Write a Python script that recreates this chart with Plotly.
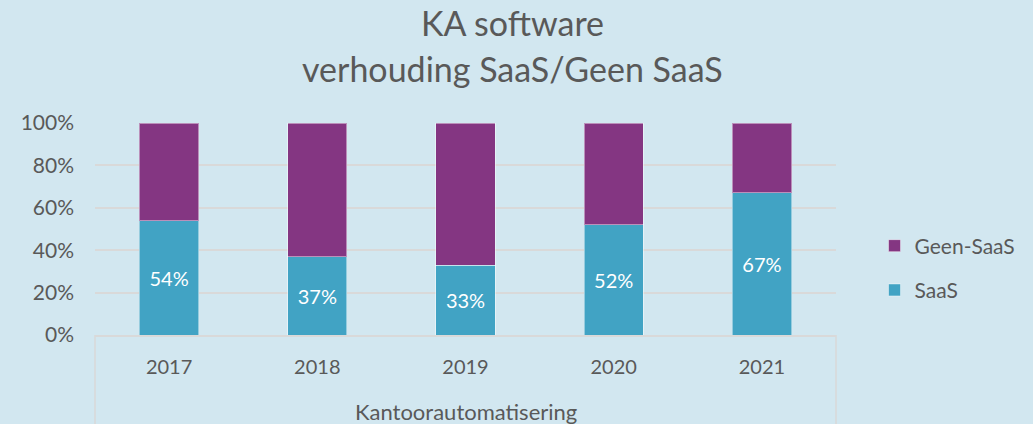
import plotly.graph_objects as go

years = ["2017", "2018", "2019", "2020", "2021"]
saas = [0.54, 0.37, 0.33, 0.52, 0.67]
geen_saas = [0.46, 0.63, 0.67, 0.48, 0.33]
group_label = "Kantoorautomatisering"
title_lines = ["KA software", "verhouding SaaS/Geen SaaS"]

FONT = "Lato, Open Sans, sans-serif"
GREY = "#595959"
GRID = "#D9D9D9"
BG = "#D2E7F0"

fig = go.Figure()
fig.add_trace(go.Bar(
    x=years, y=saas, name="SaaS",
    marker=dict(color="#41A3C4", line=dict(color="rgba(255,255,255,0.45)", width=1)),
    text=[f"{v:.0%}" for v in saas], textposition="inside", insidetextanchor="middle",
    textfont=dict(color="white", size=20, family=FONT), legendgroup="b", legendrank=2,
))
fig.add_trace(go.Bar(
    x=years, y=geen_saas, name="Geen-SaaS",
    marker=dict(color="#843682", line=dict(color="rgba(255,255,255,0.45)", width=1)),
    legendgroup="a", legendrank=1,
))

H = 212.0
fig.update_layout(
    barmode="stack", bargap=0.6,
    width=1033, height=424,
    paper_bgcolor=BG, plot_bgcolor=BG,
    margin=dict(l=95, r=188, t=123, b=89),
    font=dict(family=FONT, color=GREY, size=20),
    legend=dict(x=(884 - 95) / 750, xanchor="left", y=(335 - 268) / H, yanchor="middle",
                traceorder="grouped", tracegroupgap=14,
                font=dict(size=21, color=GREY, family=FONT), bgcolor="rgba(0,0,0,0)"),
    showlegend=True,
)
fig.update_yaxes(range=[0, 1], dtick=0.2, tickformat=".0%", showgrid=True, gridcolor=GRID,
                 gridwidth=1.5, zeroline=False, showline=False, ticks="", ticklabelstandoff=20,
                 tickfont=dict(size=21, color=GREY))
fig.update_xaxes(showline=True, linecolor=GRID, linewidth=1.5, ticks="", showgrid=False,
                 tickfont=dict(size=20, color=GREY), ticklabelstandoff=13,
                 categoryorder="array", categoryarray=years)

for xp in (0, 1):
    fig.add_shape(type="line", xref="paper", yref="paper", x0=xp, x1=xp, y0=0, y1=-100 / H,
                  line=dict(color=GRID, width=1.5))
fig.add_annotation(text=group_label, xref="paper", yref="paper", x=0.5, y=(335 - 411) / H,
                   showarrow=False, font=dict(size=22, color=GREY, family=FONT),
                   yanchor="middle")
for line, yc in zip(title_lines, (22, 69)):
    fig.add_annotation(text=line, xref="paper", yref="paper", x=(518 - 95) / 750,
                       y=(335 - yc) / H, showarrow=False, xanchor="center", yanchor="middle",
                       font=dict(size=34, color=GREY, family=FONT))

fig.write_html("out.html", config={"displayModeBar": False},
               post_script="document.body.style.margin='0';document.body.style.overflow='hidden';")
